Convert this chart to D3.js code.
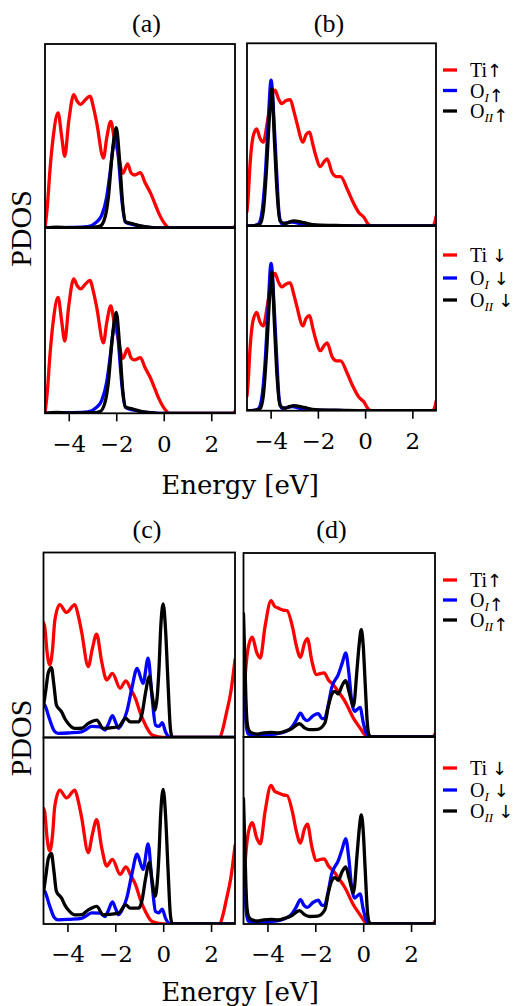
<!DOCTYPE html>
<html>
<head>
<meta charset="utf-8">
<script src="https://cdn.jsdelivr.net/npm/d3@7"></script>
<style>
  body { margin: 0; background: #fff; }
  svg { display: block; }
</style>
</head>
<body>
<svg id="fig" width="515" height="1006"></svg>
<script>
// ---- Energy axis ----
const energyDomain = [-5, 3];
const energyTicks = [-4, -2, 0, 2];
const pdosDomain = [0, 1];

// ---- Panel titles and legend entries ----
const panelTitles = ["(a)", "(b)", "(c)", "(d)"];
const speciesBase = ["Ti", "O", "O"];
const speciesSub = ["", "I", "II"];
const spinArrows = ["\u2191", "\u2193"];

// ---- PDOS curves, [energy eV, PDOS] (both spin channels coincide) ----
// (a)
const aTi = [[-5.0,0.0],[-4.9,0.12],[-4.8,0.3],[-4.65,0.5],[-4.45,0.625],[-4.3,0.5],[-4.17,0.39],[-4.0,0.58],[-3.79,0.725],[-3.65,0.69],[-3.5,0.672],[-3.3,0.697],[-3.11,0.717],[-2.95,0.65],[-2.82,0.57],[-2.54,0.38],[-2.4,0.49],[-2.23,0.58],[-2.1,0.5],[-1.95,0.42],[-1.72,0.297],[-1.52,0.349],[-1.38,0.3],[-1.23,0.288],[-0.98,0.301],[-0.8,0.25],[-0.55,0.188],[-0.35,0.125],[-0.2,0.078],[0.09,0.015],[0.23,0.0],[2.9,0.0],[3.0,0.01]];
const aOI = [[-5.0,0.0],[-4.0,0.003],[-3.2,0.008],[-2.82,0.033],[-2.61,0.07],[-2.4,0.17],[-2.26,0.3],[-2.11,0.46],[-2.01,0.525],[-1.9,0.37],[-1.76,0.15],[-1.62,0.033],[-1.3,0.018],[-0.98,0.01],[-0.5,0.002],[-0.2,0.0],[3.0,0.0]];
const aOII = [[-5.0,0.0],[-4.52,0.005],[-4.0,0.002],[-3.0,0.003],[-2.68,0.01],[-2.47,0.06],[-2.33,0.17],[-2.18,0.39],[-2.0,0.545],[-1.86,0.37],[-1.72,0.115],[-1.6,0.033],[-1.33,0.024],[-0.98,0.011],[-0.55,0.003],[-0.2,0.0],[3.0,0.0]];

// (b)
const bTi = [[-5.0,0.08],[-4.95,0.16],[-4.88,0.32],[-4.74,0.49],[-4.59,0.532],[-4.45,0.48],[-4.31,0.459],[-4.15,0.56],[-3.97,0.7],[-3.81,0.743],[-3.68,0.7],[-3.53,0.67],[-3.36,0.685],[-3.17,0.692],[-3.02,0.63],[-2.9,0.57],[-2.63,0.459],[-2.5,0.5],[-2.35,0.514],[-2.22,0.45],[-2.1,0.39],[-1.89,0.325],[-1.75,0.35],[-1.61,0.367],[-1.39,0.29],[-1.21,0.27],[-1.04,0.27],[-0.75,0.2],[-0.54,0.138],[-0.26,0.073],[-0.04,0.046],[0.1,0.015],[0.24,0.0],[2.85,0.0],[2.95,0.02],[3.0,0.05]];
const bOI = [[-5.0,0.0],[-4.7,0.002],[-4.52,0.01],[-4.38,0.064],[-4.24,0.25],[-4.12,0.52],[-3.98,0.798],[-3.85,0.56],[-3.74,0.28],[-3.64,0.064],[-3.53,0.013],[-3.3,0.018],[-3.1,0.022],[-2.67,0.01],[-2.1,0.003],[-1.0,0.001],[0.0,0.0],[3.0,0.0]];
const bOII = [[-5.0,0.0],[-4.7,0.002],[-4.45,0.01],[-4.31,0.08],[-4.17,0.32],[-4.05,0.6],[-3.95,0.752],[-3.84,0.47],[-3.73,0.19],[-3.6,0.028],[-3.39,0.013],[-3.2,0.022],[-3.03,0.028],[-2.6,0.018],[-2.1,0.006],[-0.97,0.002],[0.0,0.0],[3.0,0.0]];

// (c)
const cTi = [[-5.0,0.62],[-4.95,0.6],[-4.85,0.46],[-4.74,0.392],[-4.62,0.48],[-4.53,0.63],[-4.32,0.718],[-4.04,0.676],[-3.69,0.718],[-3.55,0.66],[-3.41,0.573],[-3.13,0.383],[-2.96,0.48],[-2.78,0.559],[-2.57,0.41],[-2.36,0.311],[-2.12,0.347],[-1.8,0.266],[-1.56,0.306],[-1.35,0.26],[-1.16,0.212],[-0.95,0.13],[-0.74,0.067],[-0.46,0.013],[-0.18,0.004],[0.1,0.0],[2.34,0.0],[2.5,0.05],[2.62,0.12],[2.83,0.25],[3.0,0.42]];
const cOI = [[-5.0,0.18],[-4.95,0.175],[-4.75,0.1],[-4.55,0.035],[-4.39,0.022],[-3.9,0.025],[-3.41,0.03],[-3.2,0.045],[-2.99,0.06],[-2.64,0.058],[-2.43,0.04],[-2.3,0.07],[-2.12,0.118],[-1.98,0.08],[-1.87,0.05],[-1.7,0.08],[-1.52,0.14],[-1.31,0.266],[-1.09,0.374],[-0.84,0.293],[-0.63,0.429],[-0.46,0.21],[-0.32,0.067],[-0.18,0.06],[-0.04,0.08],[0.1,0.03],[0.31,0.0],[3.0,0.0]];
const cOII = [[-5.0,0.17],[-4.9,0.26],[-4.8,0.35],[-4.67,0.378],[-4.57,0.29],[-4.46,0.175],[-4.25,0.14],[-4.1,0.1],[-3.97,0.076],[-3.69,0.049],[-3.41,0.05],[-3.13,0.076],[-3.0,0.085],[-2.78,0.094],[-2.5,0.049],[-2.22,0.052],[-1.87,0.058],[-1.56,0.103],[-1.38,0.085],[-1.02,0.085],[-0.88,0.13],[-0.74,0.24],[-0.58,0.329],[-0.46,0.23],[-0.34,0.148],[-0.25,0.22],[-0.18,0.36],[-0.1,0.6],[0.0,0.722],[0.1,0.58],[0.2,0.3],[0.3,0.05],[0.38,0.0],[3.0,0.0]];

// (d)
const dTi = [[-5.0,0.2],[-4.9,0.38],[-4.78,0.5],[-4.63,0.542],[-4.45,0.46],[-4.3,0.429],[-4.1,0.6],[-3.85,0.741],[-3.7,0.71],[-3.57,0.702],[-3.35,0.69],[-3.18,0.687],[-2.94,0.59],[-2.8,0.5],[-2.62,0.433],[-2.45,0.51],[-2.33,0.534],[-2.14,0.41],[-1.95,0.339],[-1.8,0.345],[-1.63,0.348],[-1.45,0.31],[-1.25,0.284],[-1.0,0.24],[-0.76,0.194],[-0.41,0.103],[-0.13,0.049],[0.05,0.015],[0.15,0.0],[2.9,0.0],[3.0,0.016]];
const dOI = [[-5.0,0.33],[-4.95,0.2],[-4.88,0.06],[-4.8,0.015],[-4.5,0.01],[-4.0,0.012],[-3.43,0.022],[-3.01,0.05],[-2.8,0.09],[-2.62,0.13],[-2.47,0.1],[-2.33,0.089],[-2.1,0.115],[-1.88,0.127],[-1.72,0.1],[-1.62,0.1],[-1.45,0.18],[-1.32,0.266],[-1.04,0.339],[-0.88,0.4],[-0.73,0.457],[-0.6,0.35],[-0.48,0.194],[-0.36,0.139],[-0.25,0.15],[-0.13,0.161],[0.0,0.08],[0.1,0.03],[0.25,0.0],[3.0,0.0]];
const dOII = [[-5.0,0.67],[-4.95,0.45],[-4.9,0.21],[-4.85,0.08],[-4.77,0.035],[-4.65,0.022],[-4.42,0.016],[-4.15,0.022],[-3.85,0.025],[-3.55,0.022],[-3.25,0.032],[-3.01,0.043],[-2.66,0.072],[-2.45,0.05],[-2.24,0.04],[-1.9,0.042],[-1.6,0.076],[-1.45,0.17],[-1.32,0.23],[-1.18,0.248],[-1.04,0.234],[-0.88,0.28],[-0.73,0.306],[-0.58,0.24],[-0.41,0.167],[-0.25,0.38],[-0.17,0.5],[-0.08,0.583],[0.0,0.5],[0.08,0.3],[0.17,0.08],[0.25,0.01],[0.35,0.0],[3.0,0.0]];

const panelSeries = [[aTi, aOI, aOII], [bTi, bOI, bOII], [cTi, cOI, cOII], [dTi, dOI, dOII]];
const seriesColors = ["#ff0000", "#0000ff", "#000000"];

// ---- Layout ----
const frames = [
  { x0: 45,    x1: 235, top: 44,    mid: 228,   bot: 413.3, titleX: 146.5, titleY: 32 },
  { x0: 247,   x1: 436, top: 43.3,  mid: 226,   bot: 410.7, titleX: 329,   titleY: 32 },
  { x0: 43.5,  x1: 235, top: 552.5, mid: 737.5, bot: 924,   titleX: 147,   titleY: 538 },
  { x0: 243.5, x1: 435, top: 553,   mid: 737,   bot: 924,   titleX: 331.5, titleY: 538 }
];
const legendBlocks = [
  { rows: [70, 90.5, 111], spin: 0 },
  { rows: [255, 278, 300], spin: 1 },
  { rows: [580, 600, 620], spin: 0 },
  { rows: [768, 790, 811], spin: 1 }
];
const ylabelCenters = [228.5, 738];
const xlabelBaselines = [494, 1001];

const serif = "'Liberation Serif', 'Times New Roman', serif";
const dvSerif = "'DejaVu Serif', serif";
const dvSans = "'DejaVu Sans', sans-serif";

const svg = d3.select("#fig");
const defs = svg.append("defs");

frames.forEach((f, i) => {
  const x = d3.scaleLinear().domain(energyDomain).range([f.x0, f.x1]);
  const channels = [[f.top, f.mid], [f.mid, f.bot]];

  channels.forEach(([t, b], c) => {
    const y = d3.scaleLinear().domain(pdosDomain).range([b, t]);
    const clipId = `clip-${i}-${c}`;
    defs.append("clipPath").attr("id", clipId)
      .append("rect").attr("x", f.x0).attr("y", t)
      .attr("width", f.x1 - f.x0).attr("height", b - t);

    const line = d3.line()
      .x(d => x(d[0]))
      .y(d => y(d[1]))
      .curve(d3.curveMonotoneX);

    const g = svg.append("g").attr("clip-path", `url(#${clipId})`);
    panelSeries[i].forEach((s, k) => {
      g.append("path")
        .attr("d", line(s))
        .attr("fill", "none")
        .attr("stroke", seriesColors[k])
        .attr("stroke-width", 3.3)
        .attr("stroke-linejoin", "round")
        .attr("stroke-linecap", "round");
    });

    svg.append("rect")
      .attr("x", f.x0).attr("y", t)
      .attr("width", f.x1 - f.x0).attr("height", b - t)
      .attr("fill", "none").attr("stroke", "#000").attr("stroke-width", 1.8);
  });

  // energy axis under the spin-down channel
  const axis = d3.axisBottom(x)
    .tickValues(energyTicks)
    .tickSize(8)
    .tickPadding(14)
    .tickFormat(d3.format("d"));
  const ax = svg.append("g").attr("transform", `translate(0,${f.bot})`).call(axis);
  ax.select(".domain").remove();
  ax.selectAll(".tick line").attr("stroke", "#000").attr("stroke-width", 1.6);
  ax.selectAll(".tick text")
    .attr("fill", "#000")
    .style("font-family", dvSerif)
    .style("font-size", "23px");

  svg.append("text")
    .attr("x", f.titleX).attr("y", f.titleY)
    .attr("text-anchor", "middle")
    .style("font-family", serif).style("font-size", "26px")
    .text(panelTitles[i]);
});

// legends
legendBlocks.forEach(L => {
  L.rows.forEach((ry, k) => {
    svg.append("line")
      .attr("x1", 443).attr("x2", 457).attr("y1", ry).attr("y2", ry)
      .attr("stroke", seriesColors[k]).attr("stroke-width", 3.3);
    const t = svg.append("text")
      .attr("x", 470).attr("y", ry + 7)
      .style("font-family", serif).style("font-size", "20px");
    t.append("tspan").text(speciesBase[k]);
    if (speciesSub[k]) {
      t.append("tspan").attr("dy", 4).style("font-size", "13px").style("font-style", "italic")
        .text(speciesSub[k]);
      t.append("tspan").attr("dy", -4).text(L.spin === 0 ? "" : " ");
    } else if (L.spin === 1) {
      t.append("tspan").text(" ");
    }
    t.append("tspan").style("font-family", dvSans).style("font-size", "18px").text(spinArrows[L.spin]);
  });
});

// axis titles
ylabelCenters.forEach(cy => {
  svg.append("text")
    .attr("transform", `translate(31,${cy}) rotate(-90)`)
    .attr("text-anchor", "middle")
    .style("font-family", serif).style("font-size", "30px")
    .text("PDOS");
});
xlabelBaselines.forEach(by => {
  svg.append("text")
    .attr("x", 240).attr("y", by)
    .attr("text-anchor", "middle")
    .style("font-family", dvSerif).style("font-size", "26px")
    .text("Energy [eV]");
});
</script>
</body>
</html>
